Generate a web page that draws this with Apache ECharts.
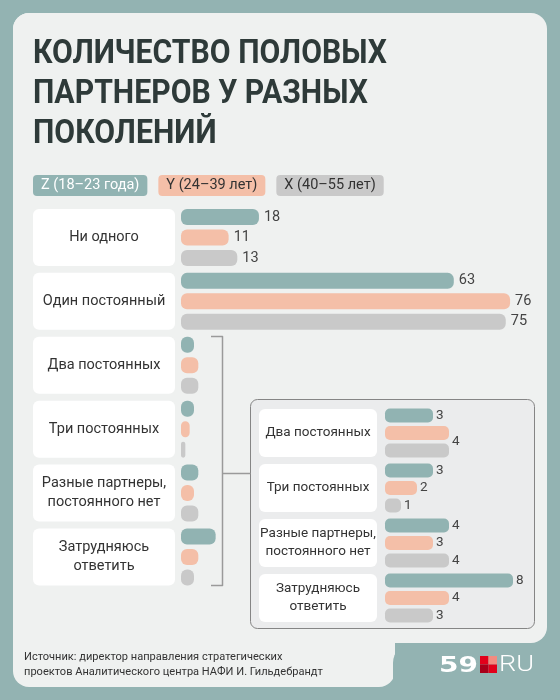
<!DOCTYPE html>
<html>
<head>
<meta charset="utf-8">
<script src="https://cdn.jsdelivr.net/npm/echarts@6/dist/echarts.min.js"></script>
<style>
  html, body { margin: 0; padding: 0; background: #93b3b2; }
  #chart { width: 560px; height: 700px; }
</style>
</head>
<body>
<div id="chart"></div>
<script>
const titleLines = ['КОЛИЧЕСТВО ПОЛОВЫХ', 'ПАРТНЕРОВ У РАЗНЫХ', 'ПОКОЛЕНИЙ'];
const sourceLines = ['Источник: директор направления стратегических', 'проектов Аналитического центра НАФИ И. Гильдебрандт'];
const categories = ['Ни одного', 'Один постоянный', 'Два постоянных', 'Три постоянных', 'Разные партнеры,\nпостоянного нет', 'Затрудняюсь\nответить'];
const seriesNames = ['Z (18–23 года)', 'Y (24–39 лет)', 'X (40–55 лет)'];
const zValues = [18, 63, 3, 3, 4, 8];
const yValues = [11, 76, 4, 2, 3, 4];
const xValues = [13, 75, 4, 1, 4, 3];
// rows repeated in the zoomed-in panel
const insetFrom = 2;

const colors = ['#91b3b2', '#f4bfa8', '#c9c9c9'];
const allValues = [zValues, yValues, xValues];
const insetCategories = categories.slice(insetFrom);
const font = 'Roboto, "Noto Sans", sans-serif';

// measure text so condensed-looking pieces can be squeezed to the right width
const measureCtx = document.createElement('canvas').getContext('2d');
function textWidth(text, cssFont) {
  measureCtx.font = cssFont;
  return measureCtx.measureText(text).width;
}
const titleFont = 'bold 33px Roboto';
const titleScale = 354 / textWidth(titleLines[0], titleFont);
const logoFont = '900 22px "DejaVu Sans"';
const logoScale = 39 / textWidth('59', logoFont);
const ruFont = '300 22px Roboto';
const ruScale = 35 / textWidth('RU', ruFont);
const sourceSize = Math.min(12.5, 12 * 299 / textWidth(sourceLines[1], '12px Roboto'));

const chart = echarts.init(document.getElementById('chart'));

const mainTop = 205.5, mainHeight = 383.4;
const insetTop = 405.5, insetHeight = 220;

const series = [];

// white category boxes (main)
series.push({
  type: 'bar', xAxisIndex: 0, yAxisIndex: 0, silent: true,
  barWidth: 57,
  data: categories.map(() => 1),
  itemStyle: { color: '#ffffff', borderRadius: 6 },
  label: { show: true, position: 'inside', formatter: '{b}', color: '#333', fontSize: 14.5, lineHeight: 19, fontFamily: font }
});
// white category boxes (inset)
series.push({
  type: 'bar', xAxisIndex: 2, yAxisIndex: 2, silent: true,
  barWidth: 48,
  data: insetCategories.map(() => 1),
  itemStyle: { color: '#ffffff', borderRadius: 6 },
  label: { show: true, position: 'inside', formatter: '{b}', color: '#333', fontSize: 13.5, lineHeight: 18, fontFamily: font }
});

allValues.forEach((vals, s) => {
  series.push({
    name: seriesNames[s], type: 'bar', xAxisIndex: 1, yAxisIndex: 1,
    barWidth: 16, barGap: '28%',
    itemStyle: { color: colors[s], borderRadius: 6 },
    label: { position: 'right', distance: 5, color: '#444', fontSize: 14.5, fontFamily: font },
    data: vals.map((v, i) => ({ value: v, label: { show: i < insetFrom } }))
  });
  series.push({
    name: seriesNames[s], type: 'bar', xAxisIndex: 3, yAxisIndex: 3,
    barWidth: 14, barGap: '25%',
    itemStyle: { color: colors[s], borderRadius: 5 },
    label: { show: true, position: 'right', distance: 3, color: '#444', fontSize: 13.5, fontFamily: font },
    data: vals.slice(insetFrom).map((v, i) => {
      // in the original, the two equal "4" of the first row share one label
      if (i === 0 && s === 1) return { value: v, label: { show: false } };
      if (i === 0 && s === 2) return { value: v, label: { offset: [0, -9] } };
      return v;
    })
  });
});

const hiddenCat = (gi, data) => ({ type: 'category', gridIndex: gi, data: data, inverse: true, show: false });
const hiddenVal = (gi, max) => ({ type: 'value', gridIndex: gi, min: 0, max: max, show: false, splitLine: { show: false } });

chart.setOption({
  animation: false,
  backgroundColor: '#93b3b2',
  legend: {
    left: 23, top: 170,
    icon: 'none', itemWidth: 0, itemHeight: 20, itemGap: 6,
    selectedMode: false,
    data: seriesNames.map((n, i) => ({
      name: n,
      textStyle: {
        color: i === 0 ? '#ffffff' : '#333',
        backgroundColor: colors[i],
        borderRadius: 4,
        padding: [3, 8, 3, 8],
        fontSize: 14.5, fontFamily: font
      }
    }))
  },
  grid: [
    { left: 33, width: 142, top: mainTop, height: mainHeight },
    { left: 181, width: 80 * 4.33, top: mainTop, height: mainHeight },
    { left: 259, width: 118, top: insetTop, height: insetHeight },
    { left: 385, width: 144, top: insetTop, height: insetHeight }
  ],
  xAxis: [hiddenVal(0, 1), hiddenVal(1, 80), hiddenVal(2, 1), hiddenVal(3, 9)],
  yAxis: [hiddenCat(0, categories), hiddenCat(1, categories), hiddenCat(2, insetCategories), hiddenCat(3, insetCategories)],
  graphic: [
    // card
    { type: 'rect', z: -10, shape: { x: 13, y: 13, width: 534, height: 630, r: 16 }, style: { fill: '#eff1f0' } },
    { type: 'rect', z: -10, shape: { x: 13, y: 13, width: 382, height: 674, r: 16 }, style: { fill: '#eff1f0' } },
    { type: 'rect', z: -9, shape: { x: 393, y: 643, width: 170, height: 70, r: [20, 0, 0, 0] }, style: { fill: '#93b3b2' } },
    // title
    { type: 'text', x: 33, y: 35, scaleX: titleScale, style: { text: titleLines.join('\n'), fill: '#2e3a39', font: titleFont, lineHeight: 40 } },
    // inset panel
    { type: 'rect', z: -8, shape: { x: 250.5, y: 399.5, width: 284, height: 229, r: 7 }, style: { fill: '#ebeced', stroke: '#858585', lineWidth: 1 } },
    // bracket
    { type: 'polyline', z: -8, shape: { points: [[211, 336.5], [222.5, 336.5], [222.5, 585.5], [211, 585.5]] }, style: { stroke: '#9a9a9a', lineWidth: 1.5, fill: null, lineJoin: 'round' } },
    { type: 'line', z: -8, shape: { x1: 222.5, y1: 473.5, x2: 250.5, y2: 473.5 }, style: { stroke: '#9a9a9a', lineWidth: 1.5 } },
    // source
    { type: 'text', x: 24, y: 650, style: { text: sourceLines.join('\n'), fill: '#333', fontSize: sourceSize, lineHeight: 15, fontFamily: font } },
    // logo
    { type: 'text', x: 439, y: 655, scaleX: logoScale, style: { text: '59', fill: '#ffffff', font: logoFont } },
    { type: 'rect', shape: { x: 480, y: 656, width: 8.5, height: 8.5 }, style: { fill: '#e2001a' } },
    { type: 'rect', shape: { x: 488.5, y: 656, width: 8.5, height: 8.5 }, style: { fill: '#f28b80' } },
    { type: 'rect', shape: { x: 480, y: 664.5, width: 8.5, height: 8.5 }, style: { fill: '#a8001a' } },
    { type: 'rect', shape: { x: 488.5, y: 664.5, width: 8.5, height: 8.5 }, style: { fill: '#e2001a' } },
    { type: 'text', x: 499, y: 654, scaleX: ruScale, style: { text: 'RU', fill: '#ffffff', font: ruFont } }
  ],
  series: series
});
</script>
</body>
</html>
